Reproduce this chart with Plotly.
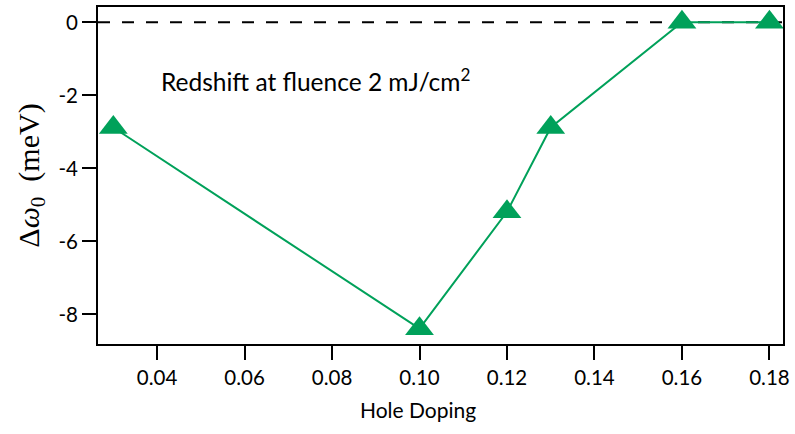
import plotly.graph_objects as go

# Hole doping levels and frequency shift (meV)
doping = [0.03, 0.10, 0.12, 0.13, 0.16, 0.18]
shift = [-2.88, -8.39, -5.19, -2.88, 0.0, 0.0]

y_ticks = [0, -2, -4, -6, -8]
y_ticklabels = ["0", "-2", "-4", "-6", "-8"]
x_ticks = [0.04, 0.06, 0.08, 0.10, 0.12, 0.14, 0.16, 0.18]
x_ticklabels = ["0.04", "0.06", "0.08", "0.10", "0.12", "0.14", "0.16", "0.18"]

green = "#00a15a"
font_sans = "Lato, 'Open Sans', sans-serif"

fig = go.Figure()

fig.add_trace(go.Scatter(
    x=doping, y=shift,
    mode="lines+markers",
    line=dict(color=green, width=2),
    marker=dict(symbol="triangle-up", size=25, color=green),
    showlegend=False,
    cliponaxis=False,
))

fig.add_hline(y=0, line=dict(color="black", width=2, dash="12px,12px"), layer="below")

fig.add_annotation(
    x=0.0405, y=-1.58, xref="x", yref="y",
    text="Redshift at fluence 2 mJ/cm<sup>2</sup>",
    showarrow=False, xanchor="left", yanchor="middle",
    font=dict(family=font_sans, size=24.5, color="black"),
)

fig.add_annotation(
    x=0.4676, y=-0.195, xref="paper", yref="paper",
    text="Hole Doping",
    showarrow=False, xanchor="center", yanchor="middle",
    font=dict(family=font_sans, size=21, color="black"),
)

fig.update_xaxes(
    range=[0.0265, 0.1831],
    tickvals=x_ticks, ticktext=x_ticklabels,
    ticks="outside", ticklen=14, tickwidth=2, tickcolor="black",
    showline=True, linewidth=2, linecolor="black", mirror=True,
    showgrid=False, zeroline=False,
    tickfont=dict(family=font_sans, size=20.5, color="black"),
)
fig.update_yaxes(
    range=[-8.81, 0.42],
    tickvals=y_ticks, ticktext=y_ticklabels,
    ticks="outside", ticklen=14, tickwidth=2, tickcolor="black",
    showline=True, linewidth=2, linecolor="black", mirror=True,
    showgrid=False, zeroline=False,
    tickfont=dict(family=font_sans, size=20.5, color="black"),
    title=dict(
        text="Δ<i>ω</i><sub>0</sub>  (meV)",
        font=dict(family="'Liberation Serif', 'DejaVu Serif', serif", size=30, color="black"),
        standoff=10,
    ),
)

fig.update_layout(
    width=795, height=434,
    margin=dict(l=98, r=9, t=5, b=90),
    plot_bgcolor="white", paper_bgcolor="white",
)

fig.write_html("out.html")
